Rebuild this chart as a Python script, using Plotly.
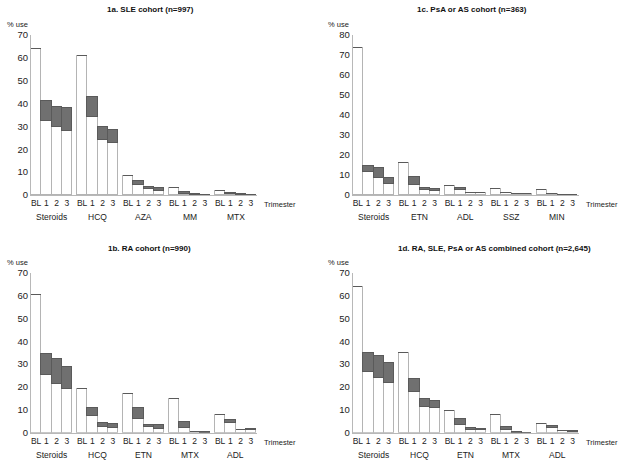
import plotly.graph_objects as go

# ---------------- data ----------------
periods = ["BL", "1", "2", "3"]

# 1a. SLE cohort
sle_drugs = ["Steroids", "HCQ", "AZA", "MM", "MTX"]
sle_white = [[64.0, 32.5, 29.6, 28.1], [60.9, 34.0, 23.9, 22.6], [8.3, 4.4, 2.5, 1.9],
             [3.2, 0.6, 0.2, 0.1], [1.8, 0.5, 0.2, 0.1]]
sle_gray = [[0, 8.6, 8.8, 9.8], [0, 8.7, 5.8, 5.7], [0, 1.9, 1.0, 1.0],
            [0, 0.7, 0.2, 0.1], [0, 0.4, 0.2, 0.1]]

# 1c. PsA or AS cohort
psa_drugs = ["Steroids", "ETN", "ADL", "SSZ", "MIN"]
psa_white = [[73.3, 11.7, 8.7, 5.5], [15.8, 5.0, 2.3, 2.2], [4.5, 2.5, 1.0, 1.1],
             [2.8, 0.8, 0.3, 0.4], [2.5, 0.3, 0.1, 0.1]]
psa_gray = [[0, 3.0, 4.6, 2.8], [0, 4.2, 1.0, 0.8], [0, 1.2, 0.2, 0.1],
            [0, 0.4, 0.2, 0.1], [0, 0.3, 0.1, 0.0]]

# 1b. RA cohort
ra_drugs = ["Steroids", "HCQ", "ETN", "MTX", "ADL"]
ra_white = [[60.4, 25.2, 21.6, 19.4], [19.4, 7.3, 2.6, 2.4], [17.2, 6.3, 2.6, 1.9],
            [15.0, 2.2, 0.4, 0.2], [8.0, 4.4, 1.4, 1.1]]
ra_gray = [[0, 9.2, 10.9, 9.5], [0, 3.8, 1.8, 1.4], [0, 4.8, 1.1, 1.5],
           [0, 2.6, 0.2, 0.1], [0, 1.4, 0.1, 0.6]]

# 1d. combined cohort
all_drugs = ["Steroids", "HCQ", "ETN", "MTX", "ADL"]
all_white = [[63.8, 26.7, 24.1, 21.9], [35.0, 17.9, 11.4, 10.9], [9.6, 3.7, 1.5, 1.2],
             [7.7, 1.5, 0.2, 0.1], [4.1, 2.2, 0.7, 0.6]]
all_gray = [[0, 8.5, 9.6, 8.7], [0, 5.9, 3.6, 3.1], [0, 2.6, 0.7, 0.7],
            [0, 1.1, 0.1, 0.1], [0, 0.7, 0.1, 0.1]]

titles = ["1a. SLE cohort (n=997)", "1c. PsA or AS cohort (n=363)",
          "1b. RA cohort (n=990)", "1d. RA, SLE, PsA or AS combined cohort (n=2,645)"]
y_max = [70, 80, 70, 70]
y_ticks = [[0, 10, 20, 30, 40, 50, 60, 70], [0, 10, 20, 30, 40, 50, 60, 70, 80],
           [0, 10, 20, 30, 40, 50, 60, 70], [0, 10, 20, 30, 40, 50, 60, 70]]

panels = [(sle_drugs, sle_white, sle_gray), (psa_drugs, psa_white, psa_gray),
          (ra_drugs, ra_white, ra_gray), (all_drugs, all_white, all_gray)]

# ---------------- layout geometry ----------------
W, H = 625, 465
FONT = "Liberation Sans, Arial, sans-serif"
GROUP_STEP = 46.0
BAR_W = 10.25
AXIS_LEN = 226.0
# pixel boxes: (left, right, top, bottom)
boxes = [(31, 31 + AXIS_LEN, 35, 195), (352.7, 352.7 + AXIS_LEN, 35, 195),
         (31, 31 + AXIS_LEN, 272.7, 432.7), (352.7, 352.7 + AXIS_LEN, 272.7, 432.7)]

fig = go.Figure()
layout = dict(
    width=W, height=H, margin=dict(l=0, r=0, t=0, b=0, autoexpand=False),
    plot_bgcolor="white", paper_bgcolor="white", barmode="stack", bargap=0,
    showlegend=False, font=dict(family=FONT, size=9, color="#222"),
)
annotations = []

for k, (drugs, white, gray) in enumerate(panels):
    ax = "" if k == 0 else str(k + 1)
    xs, labs, wv, gv = [], [], [], []
    for i, d in enumerate(drugs):
        for j, p in enumerate(periods):
            xs.append(i * GROUP_STEP + j * BAR_W + BAR_W / 2)
            labs.append(p)
            wv.append(white[i][j])
            gv.append(gray[i][j])
    fig.add_trace(go.Bar(x=xs, y=wv, width=BAR_W, xaxis="x" + ax, yaxis="y" + ax,
                         marker=dict(color="white", line=dict(color="#b4b4b4", width=1))))
    fig.add_trace(go.Bar(x=xs, y=gv, width=BAR_W, xaxis="x" + ax, yaxis="y" + ax,
                         marker=dict(color="#707070", line=dict(color="#5a5a5a", width=1))))
    l, r, t, b = boxes[k]
    layout["xaxis" + ax] = dict(
        domain=[l / W, r / W], range=[0, AXIS_LEN], anchor="y" + ax,
        showline=True, linecolor="#b8b8b8", linewidth=1, showgrid=False, zeroline=False,
        tickmode="array", tickvals=xs, ticktext=labs, ticks="", tickangle=0,
        automargin=False, tickfont=dict(size=8.5, family=FONT, color="#222"),
    )
    layout["yaxis" + ax] = dict(
        domain=[1 - b / H, 1 - t / H], range=[0, y_max[k]], anchor="x" + ax,
        showline=True, linecolor="#b8b8b8", linewidth=1, showgrid=False, zeroline=False,
        tickmode="array", tickvals=y_ticks[k], ticks="", automargin=False,
        tickfont=dict(size=9.5, family=FONT, color="#222"),
    )
    # drug labels
    for i, d in enumerate(drugs):
        annotations.append(dict(
            x=i * GROUP_STEP + 2 * BAR_W, y=1 - (b + 22) / H, xref="x" + ax, yref="paper",
            text=d, showarrow=False, font=dict(size=8.5, family=FONT, color="#222"),
            xanchor="center", yanchor="middle"))
    # Trimester label
    annotations.append(dict(
        x=(r + 23) / W, y=1 - (b + 9.5) / H, xref="paper", yref="paper", text="Trimester",
        showarrow=False, font=dict(size=7.5, family=FONT, color="#222"),
        xanchor="center", yanchor="middle"))
    # % use label
    annotations.append(dict(
        x=(l - 14) / W, y=1 - (t - 10) / H, xref="paper", yref="paper", text="% use",
        showarrow=False, font=dict(size=7.5, family=FONT, color="#222"),
        xanchor="center", yanchor="middle"))
    # title
    tcx = [150, 471.7, 149, 494][k]
    tcy = [10, 10, 248, 248][k]
    annotations.append(dict(
        x=tcx / W, y=1 - tcy / H, xref="paper", yref="paper", text="<b>" + titles[k] + "</b>",
        showarrow=False, font=dict(size=8, family=FONT, color="#111"),
        xanchor="center", yanchor="middle"))

layout["annotations"] = annotations
fig.update_layout(**layout)
fig.write_html("out.html", config={"displayModeBar": False},
               post_script="document.body.style.margin='0';document.body.style.overflow='hidden';")
